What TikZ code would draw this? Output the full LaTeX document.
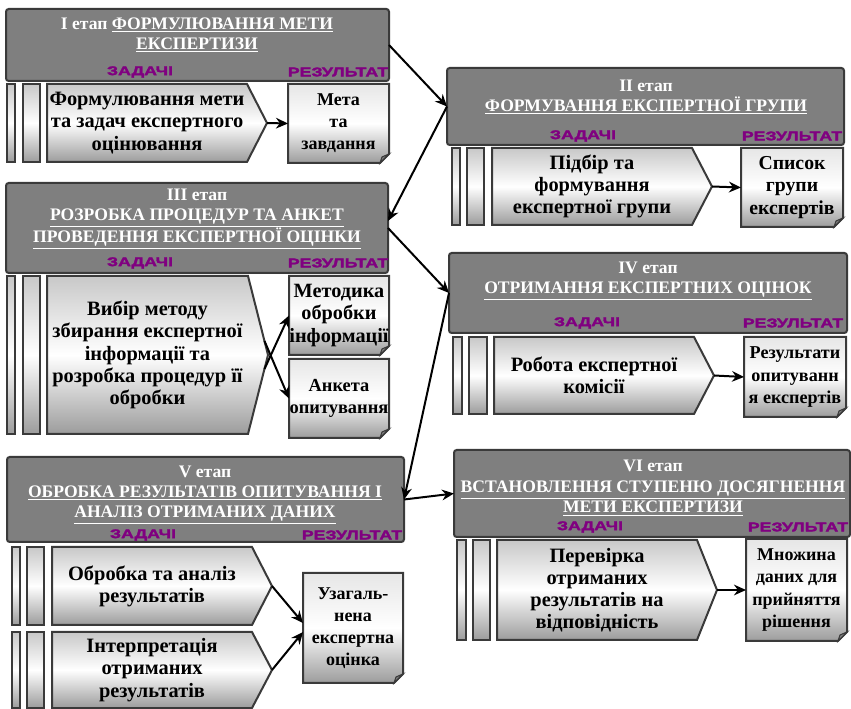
\documentclass[tikz,border=0pt]{standalone}
\usepackage{fontspec}
\setmainfont{Liberation Serif}
\newfontfamily\labfont[FakeStretch=1.4,FakeBold=2.5]{Liberation Sans Bold}
\usetikzlibrary{arrows.meta,calc}
\definecolor{hdrgray}{HTML}{7F7F7F}
\definecolor{edge}{HTML}{3A3A3A}
\definecolor{labpurple}{HTML}{800080}
\definecolor{shA}{HTML}{C8C8C8}
\definecolor{shB}{HTML}{9C9C9C}
\definecolor{shC}{HTML}{E6E6E6}
\definecolor{foldgray}{HTML}{808080}
\tikzset{
 hdrbox/.style={draw=edge, fill=hdrgray, line width=1.5pt, rounded corners=2pt, inner sep=0pt, outer sep=0pt},
 titletext/.style={text=white, font=\fontsize{13.2}{15.3}\selectfont\bfseries, align=center, inner sep=0pt},
 lab/.style={text=labpurple, font=\labfont\fontsize{9.5}{10}\selectfont, inner sep=0pt},
 barstyle/.style={draw=edge, line width=1.2pt, top color=shA, bottom color=shB, middle color=white, inner sep=0pt, outer sep=0pt},
 taskstyle/.style={draw=edge, line width=1.5pt, top color=shA, bottom color=shB, middle color=white},
 tasktext/.style={font=\fontsize{15.3}{16.6}\selectfont\bfseries, align=center, inner sep=0pt, outer sep=0pt},
 docstyle/.style={draw=edge, line width=1.5pt, top color=shC, bottom color=shB, middle color=white},
 doctext/.style={align=center, inner sep=0pt, outer sep=0pt},
 foldstyle/.style={fill=foldgray, draw=edge, line width=0.8pt},
 conn/.style={line width=1.5pt, -{Stealth[length=9pt,width=8pt]}},
}
\newcommand\hdr[5]{\node[hdrbox, minimum width={0.75*(#4-#2)}, minimum height={0.75*(#5-#3)}] (#1) at ({(#2+#4)/2},{(#3+#5)/2}) {};}
\newcommand\barbox[5]{\node[barstyle, minimum width={0.75*(#4-#2)}, minimum height={0.75*(#5-#3)}] (#1) at ({(#2+#4)/2},{(#3+#5)/2}) {};}
\newcommand\task[6]{%
 \path[taskstyle] (#2,#3) -- (#4,#3) -- ({#4+20},{(#3+#5)/2}) -- (#4,#5) -- (#2,#5) -- cycle;
 \node[tasktext, minimum width={0.75*(#4-#2)}, minimum height={0.75*(#5-#3)}] (#1) at ({(#2+#4)/2},{(#3+#5)/2}) {#6};
 \coordinate (#1-tip) at ({#4+20},{(#3+#5)/2});
}
\newcommand\docbox[7][13.5]{%
 \path[docstyle] (#3,#4) -- (#5,#4) -- (#5,{#6-9}) -- ({#5-9},#6) -- (#3,#6) -- cycle;
 \path[foldstyle] (#5,{#6-9}) -- ({#5-7},{#6-6}) -- ({#5-9},#6) -- cycle;
 \node[doctext, font=\fontsize{#1}{16.6}\selectfont\bfseries, minimum width={0.75*(#5-#3)}, minimum height={0.75*(#6-#4)}] (#2) at ({(#3+#5)/2},{(#4+#6)/2}) {#7};
}
\begin{document}
\begin{tikzpicture}[x=0.75pt,y=-0.75pt]
\useasboundingbox (0,0) rectangle (851,709);
% ---------- Stage I
\hdr{h1}{6}{9}{389}{81}
\node[titletext] (h1t) at (197,35) {І етап \underline{ФОРМУЛЮВАННЯ МЕТИ}\\\underline{ЕКСПЕРТИЗИ}};
\node[lab] (h1z) at (140,72) {ЗАДАЧІ};
\node[lab] (h1r) at (338,72) {РЕЗУЛЬТАТ};
\barbox{b1a}{7}{84}{15}{162}
\barbox{b1b}{23}{84}{40}{162}
\task{t1}{47}{84}{247}{162}{Формулювання мети\\та задач експертного\\оцінювання}
\docbox{d1}{288}{84}{389}{163}{Мета\\та\\завдання}
\draw[conn] (t1-tip) -- (d1.west);
% ---------- Stage II
\hdr{h2}{447}{68}{844}{145}
\node[titletext] (h2t) at (646,97) {ІІ етап\\\underline{ФОРМУВАННЯ ЕКСПЕРТНОЇ ГРУПИ}};
\node[lab] (h2z) at (583,136) {ЗАДАЧІ};
\node[lab] (h2r) at (792,136) {РЕЗУЛЬТАТ};
\barbox{b2a}{452}{148}{460}{225}
\barbox{b2b}{467}{148}{484}{225}
\task{t2}{492}{148}{692}{225}{Підбір та\\формування\\експертної групи}
\docbox[14.8]{d2}{741}{148}{843}{227}{Список\\групи\\експертів}
\draw[conn] (t2-tip) -- (d2.west);
% ---------- Stage III
\hdr{h3}{6}{183}{388}{273}
\node[titletext] (h3t) at (197,219) {ІІІ етап\\\underline{РОЗРОБКА ПРОЦЕДУР ТА АНКЕТ}\\\underline{ПРОВЕДЕННЯ ЕКСПЕРТНОЇ ОЦІНКИ}};
\node[lab] (h3z) at (140,263) {ЗАДАЧІ};
\node[lab] (h3r) at (338,263) {РЕЗУЛЬТАТ};
\barbox{b3a}{7}{276}{15}{434}
\barbox{b3b}{23}{276}{40}{434}
\task{t3}{47}{276}{248}{434}{Вибір методу\\збирання експертної\\інформації та\\розробка процедур її\\обробки}
\docbox[15.2]{d3a}{289}{276}{389}{355}{Методика\\обробки\\інформації}
\docbox[13.8]{d3b}{289}{359}{389}{438}{Анкета\\опитування}
\coordinate (t3u) at (264.5,341);
\coordinate (t3l) at (264.5,369);
\draw[conn] (t3l) -- (d3a.west);
\draw[conn] (t3u) -- (d3b.west);
% ---------- Stage IV
\hdr{h4}{449}{253}{847}{333}
\node[titletext] (h4t) at (648,281) {IV етап\\\underline{ОТРИМАННЯ ЕКСПЕРТНИХ ОЦІНОК}};
\node[lab] (h4z) at (587,323) {ЗАДАЧІ};
\node[lab] (h4r) at (793,323) {РЕЗУЛЬТАТ};
\barbox{b4a}{453}{337}{462}{414}
\barbox{b4b}{469}{337}{487}{414}
\task{t4}{494}{337}{694}{414}{Робота експертної\\комісії}
\docbox[13.6]{d4}{744}{337}{846}{417}{Результати\\опитуванн\\я експертів}
\draw[conn] (t4-tip) -- (d4.west);
% ---------- Stage V
\hdr{h5}{7}{457}{404}{542}
\node[titletext] (h5t) at (205,495) {V етап\\\underline{ОБРОБКА РЕЗУЛЬТАТІВ ОПИТУВАННЯ І}\\\underline{АНАЛІЗ ОТРИМАНИХ ДАНИХ}};
\node[lab] (h5z) at (143,535) {ЗАДАЧІ};
\node[lab] (h5r) at (352,535) {РЕЗУЛЬТАТ};
\barbox{b5a}{12}{547}{20}{625}
\barbox{b5b}{27}{547}{44}{625}
\task{t5a}{52}{547}{252}{625}{Обробка та аналіз\\результатів}
\barbox{b5c}{12}{632}{20}{708}
\barbox{b5d}{27}{632}{44}{708}
\task{t5b}{52}{632}{252}{708}{Інтерпретація\\отриманих\\результатів}
\docbox{d5}{303}{573}{403}{683}{Узагаль-\\нена\\експертна\\оцінка}
\draw[conn] (t5a-tip) -- ($(d5.west)+(0,-5)$);
\draw[conn] (t5b-tip) -- ($(d5.west)+(0,4)$);
% ---------- Stage VI
\hdr{h6}{454}{450}{850}{537}
\node[titletext] (h6t) at (653,488) {VI етап\\\underline{ВСТАНОВЛЕННЯ СТУПЕНЮ ДОСЯГНЕННЯ}\\\underline{МЕТИ ЕКСПЕРТИЗИ}};
\node[lab] (h6z) at (590,527) {ЗАДАЧІ};
\node[lab] (h6r) at (798,527) {РЕЗУЛЬТАТ};
\barbox{b6a}{457}{540}{466}{640}
\barbox{b6b}{473}{540}{490}{640}
\task{t6}{497}{540}{697}{640}{Перевірка\\отриманих\\результатів на\\відповідність}
\docbox{d6}{746}{539}{847}{641}{Множина\\даних для\\прийняття\\рішення}
\draw[conn] (t6-tip) -- (d6.west);
% ---------- stage links
\draw[conn] (h1.east) -- (h2.west);
\draw[conn] (h2.west) -- ($(h3.east)+(0,-7)$);
\draw[conn] (h3.east) -- (h4.west);
\draw[conn] (h4.west) -- (h5.east);
\draw[conn] (h5.east) -- (h6.west);
\end{tikzpicture}
\end{document}
